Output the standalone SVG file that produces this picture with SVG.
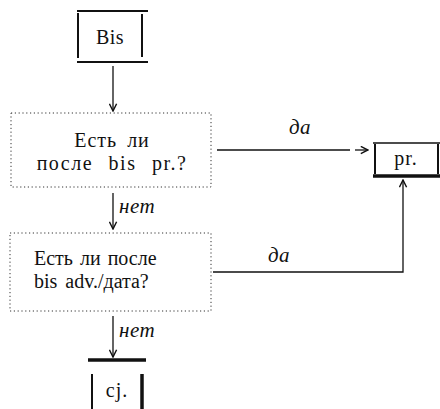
<svg xmlns="http://www.w3.org/2000/svg" width="440" height="409" viewBox="0 0 440 409">
  <style>
    text { font-family: 'Liberation Serif', 'Times New Roman', 'DejaVu Serif', serif; fill: #111; }
    .t { font-size: 20px; }
    .i { font-size: 21px; font-style: italic; letter-spacing: 0.5px; }
    .dot { fill: none; stroke: #333; stroke-width: 1; stroke-dasharray: 1.2 2.6; }
    .bar { stroke: #111; stroke-width: 2; fill: none; }
    .thick { stroke: #111; stroke-width: 3.5; fill: none; }
    .ln { stroke: #111; stroke-width: 1.3; fill: none; }
  </style>
  <defs>
    <marker id="ah" viewBox="0 0 10 10" refX="9" refY="5" markerWidth="9" markerHeight="9" markerUnits="userSpaceOnUse" orient="auto">
      <path d="M1,1 L9,5 L1,9" fill="none" stroke="#111" stroke-width="1.6"/>
    </marker>
  </defs>
  <rect width="440" height="409" fill="#fff"/>

  <!-- start node -->
  <g id="bis">
    <line class="bar" x1="77" y1="11" x2="148" y2="11"/>
    <line class="bar" x1="77" y1="62" x2="148" y2="62"/>
    <line class="bar" x1="78" y1="13" x2="78" y2="58"/>
    <line class="bar" x1="142" y1="14" x2="142" y2="57"/>
    <text class="t" x="110" y="44" text-anchor="middle" letter-spacing="0.5">Bis</text>
  </g>

  <!-- first question -->
  <g id="q1">
    <rect class="dot" x="11" y="113" width="200" height="74"/>
    <text class="t" x="112" y="147" text-anchor="middle" letter-spacing="1" word-spacing="4">Есть ли</text>
    <text class="t" x="112" y="170" text-anchor="middle" letter-spacing="1.5" word-spacing="9">после bis pr.?</text>
  </g>

  <!-- second question -->
  <g id="q2">
    <rect class="dot" x="10" y="233" width="201" height="78"/>
    <text class="t" x="34" y="265" word-spacing="2">Есть ли после</text>
    <text class="t" x="34" y="288" word-spacing="3">bis adv./дата?</text>
  </g>

  <!-- outcome: pr. -->
  <g id="pr">
    <line class="ln" x1="373" y1="143" x2="440" y2="143"/>
    <line class="bar" x1="375" y1="144" x2="375" y2="174"/>
    <line class="bar" x1="438" y1="144" x2="438" y2="174"/>
    <line class="thick" x1="373" y1="176" x2="440" y2="176"/>
    <text class="t" x="406" y="165" text-anchor="middle" letter-spacing="1">pr.</text>
  </g>

  <!-- outcome: cj. -->
  <g id="cj">
    <line class="thick" x1="88" y1="360" x2="146" y2="360"/>
    <line class="bar" x1="92" y1="374" x2="92" y2="409"/>
    <line class="thick" x1="142" y1="374" x2="142" y2="409"/>
    <text class="t" x="117" y="397" text-anchor="middle" letter-spacing="1">cj.</text>
  </g>

  <g id="connectors">
    <line class="ln" x1="113" y1="66" x2="113" y2="111" marker-end="url(#ah)"/>
    <line class="ln" x1="113" y1="193" x2="113" y2="229" marker-end="url(#ah)"/>
    <text class="i" x="119" y="213">нет</text>
    <line class="ln" x1="113" y1="316" x2="113" y2="357" marker-end="url(#ah)"/>
    <text class="i" x="119" y="337">нет</text>
    <line class="ln" x1="217" y1="150" x2="350" y2="150"/>
    <line class="ln" x1="355" y1="150" x2="368" y2="150" stroke-width="1" marker-end="url(#ah)"/>
    <text class="i" x="300" y="134" text-anchor="middle">да</text>
    <polyline class="ln" points="213,272 403,272 403,180" marker-end="url(#ah)"/>
    <text class="i" x="279" y="262" text-anchor="middle">да</text>
  </g>
</svg>
